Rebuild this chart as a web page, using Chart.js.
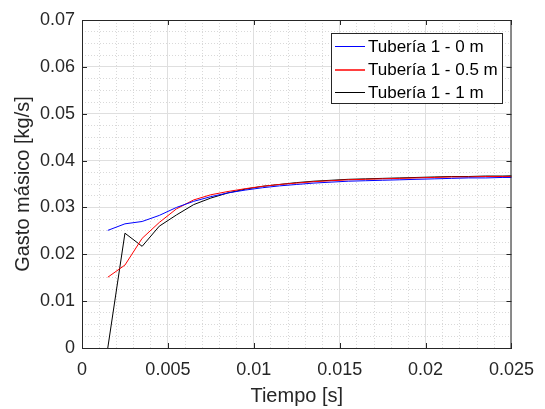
<!DOCTYPE html>
<html>
<head>
<meta charset="utf-8">
<script src="https://cdn.jsdelivr.net/npm/chart.js@4.4.0/dist/chart.umd.min.js"></script>
<style>
  html, body { margin: 0; padding: 0; background: #fff; }
  #wrap { width: 545px; height: 409px; }
</style>
</head>
<body>
<div id="wrap"><canvas id="gastoChart" width="545" height="409"></canvas></div>
<script>
// --- Data ---
const tiempo = [0.0015, 0.0025, 0.0035, 0.0045, 0.0055, 0.0065, 0.0075, 0.0085, 0.0095, 0.0105,
                0.0115, 0.0125, 0.0135, 0.0145, 0.0155, 0.0165, 0.0175, 0.0185, 0.0195, 0.0205,
                0.0215, 0.0225, 0.0235, 0.0245, 0.0255];

const gasto0m = [0.0251, 0.0265, 0.0270, 0.0283, 0.0300, 0.0313, 0.0323, 0.0331, 0.0337, 0.0342,
                 0.0346, 0.0349, 0.0352, 0.0354, 0.0356, 0.0357, 0.0358, 0.0359, 0.0360, 0.0361,
                 0.0362, 0.0363, 0.0363, 0.0364, 0.0364];

const gasto05m = [0.0151, 0.0177, 0.0234, 0.0268, 0.0297, 0.0316, 0.0327, 0.0334, 0.0340, 0.0345,
                  0.0349, 0.0352, 0.0355, 0.0357, 0.0359, 0.0360, 0.0361, 0.0362, 0.0363, 0.0364,
                  0.0365, 0.0365, 0.0366, 0.0366, 0.0366];

const gasto1m = [0.0000, 0.0245, 0.0217, 0.0260, 0.0284, 0.0306, 0.0320, 0.0331, 0.0339, 0.0345,
                 0.0349, 0.0353, 0.0356, 0.0358, 0.0360, 0.0361, 0.0362, 0.0363, 0.0364, 0.0365,
                 0.0366, 0.0366, 0.0367, 0.0367, 0.0368];

const seriesNames = ["Tubería 1 - 0 m", "Tubería 1 - 0.5 m", "Tubería 1 - 1 m"];
const seriesColors = ["#0000ff", "#ff0000", "#000000"];

const xTickLabels = ["0", "0.005", "0.01", "0.015", "0.02", "0.025"];
const yTickLabels = ["0", "0.01", "0.02", "0.03", "0.04", "0.05", "0.06", "0.07"];

const TEXT = "#262626";
const FONT = "'Liberation Sans', Arial, sans-serif";

function toPoints(xs, ys) {
    return xs.map((x, i) => ({ x: x, y: ys[i] }));
}

// --- Box, inward ticks and legend inside the axes ---
const matlabFrame = {
    id: "matlabFrame",
    afterDatasetsDraw(chart) {
        const { ctx, chartArea: a, scales } = chart;
        ctx.save();
        ctx.strokeStyle = TEXT;
        ctx.lineWidth = 1;
        ctx.beginPath();
        ctx.moveTo(a.left, a.top + 0.5);
        ctx.lineTo(a.right, a.top + 0.5);
        ctx.moveTo(a.right - 0.5, a.top);
        ctx.lineTo(a.right - 0.5, a.bottom);
        // inward ticks
        scales.x.ticks.forEach(t => {
            const px = Math.round(scales.x.getPixelForValue(t.value)) + 0.5;
            ctx.moveTo(px, a.bottom); ctx.lineTo(px, a.bottom - 5);
            ctx.moveTo(px, a.top); ctx.lineTo(px, a.top + 5);
        });
        scales.y.ticks.forEach(t => {
            const py = Math.round(scales.y.getPixelForValue(t.value)) + 0.5;
            ctx.moveTo(a.left, py); ctx.lineTo(a.left + 5, py);
            ctx.moveTo(a.right, py); ctx.lineTo(a.right - 5, py);
        });
        ctx.stroke();

        // legend
        const bx = 331, by = 33, bw = 171, bh = 70;
        ctx.fillStyle = "#ffffff";
        ctx.fillRect(bx, by, bw, bh);
        ctx.strokeStyle = TEXT;
        ctx.strokeRect(bx + 0.5, by + 0.5, bw, bh);
        ctx.font = "17px " + FONT;
        ctx.textBaseline = "middle";
        ctx.textAlign = "left";
        seriesNames.forEach((name, i) => {
            const cy = by + 13 + i * 23;
            // the red sample sits between pixel rows in the reference (softer, wider)
            const ly = (i === 1) ? cy + 1 : cy + 0.5;
            ctx.beginPath();
            ctx.strokeStyle = seriesColors[i];
            ctx.lineWidth = (i === 1) ? 1.5 : 1;
            ctx.moveTo(bx + 4, ly);
            ctx.lineTo(bx + 34, ly);
            ctx.stroke();
            ctx.fillStyle = "#000000";
            ctx.fillText(name, bx + 37, cy + 1);
        });
        ctx.restore();
    }
};

function minorGridColor(stepsPerMajor) {
    return c => (c.index % stepsPerMajor === 0) ? "rgba(0,0,0,0)" : "#d9d9d9";
}

new Chart(document.getElementById("gastoChart").getContext("2d"), {
    type: "scatter",
    data: {
        datasets: [gasto0m, gasto05m, gasto1m].map((ys, i) => ({
            label: seriesNames[i],
            data: toPoints(tiempo, ys),
            showLine: true,
            borderColor: seriesColors[i],
            backgroundColor: seriesColors[i],
            borderWidth: 1,
            pointRadius: 0,
            tension: 0
        }))
    },
    options: {
        responsive: false,
        animation: false,
        events: [],
        layout: { padding: { top: 20, right: 30, left: 0, bottom: 0 } },
        plugins: { legend: { display: false }, tooltip: { enabled: false } },
        scales: {
            xMinor: {
                type: "linear", position: "bottom", min: 0, max: 0.025,
                ticks: { display: false, stepSize: 0.001 },
                grid: { color: minorGridColor(5), drawTicks: false, lineWidth: 1 },
                border: { display: false, dash: [1, 2] },
                afterFit: s => { s.height = 0; }
            },
            yMinor: {
                type: "linear", position: "left", min: 0, max: 0.07,
                ticks: { display: false, stepSize: 0.0025 },
                grid: { color: minorGridColor(4), drawTicks: false, lineWidth: 1 },
                border: { display: false, dash: [1, 2] },
                afterFit: s => { s.width = 0; }
            },
            x: {
                type: "linear", position: "bottom", min: 0, max: 0.025,
                ticks: {
                    stepSize: 0.005, padding: 11, color: TEXT, maxRotation: 0,
                    font: { family: FONT, size: 18 },
                    callback: (v, i) => xTickLabels[i]
                },
                grid: { color: "#dfdfdf", drawTicks: false },
                border: { color: TEXT, width: 1 },
                title: {
                    display: true, text: "Tiempo [s]", color: TEXT,
                    font: { family: FONT, size: 20 }, padding: { top: 0, bottom: 1 }
                },
                afterFit: s => { s.height = 61; }
            },
            y: {
                type: "linear", position: "left", min: 0, max: 0.07,
                ticks: {
                    stepSize: 0.01, padding: 7, color: TEXT,
                    font: { family: FONT, size: 18 },
                    callback: (v, i) => yTickLabels[i]
                },
                grid: { color: "#dfdfdf", drawTicks: false },
                border: { color: TEXT, width: 1 },
                title: {
                    display: true, text: "Gasto másico [kg/s]", color: TEXT,
                    font: { family: FONT, size: 20 }, padding: { top: 11, bottom: 0 }
                },
                afterFit: s => { s.width = 82; }
            }
        }
    },
    plugins: [matlabFrame]
});
</script>
</body>
</html>
